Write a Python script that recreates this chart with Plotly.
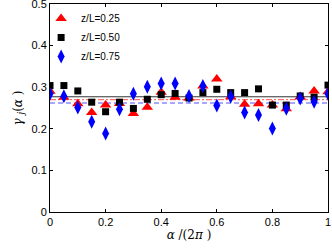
import plotly.graph_objects as go

x_vals = [0, 0.05, 0.1, 0.15, 0.2, 0.25, 0.3, 0.35, 0.4, 0.45, 0.5,
          0.55, 0.6, 0.65, 0.7, 0.75, 0.8, 0.85, 0.9, 0.95, 1.0]
red_025 = [0.290, 0.276, 0.260, 0.239, 0.257, 0.261, 0.237, 0.252, 0.288, 0.276, 0.274,
           0.303, 0.320, 0.277, 0.259, 0.260, 0.257, 0.248, 0.277, 0.291, 0.289]
black_050 = [0.304, 0.304, 0.291, 0.264, 0.241, 0.264, 0.249, 0.271, 0.282, 0.285, 0.274,
             0.287, 0.295, 0.287, 0.287, 0.296, 0.257, 0.257, 0.279, 0.276, 0.305]
blue_075 = [0.284, 0.278, 0.251, 0.217, 0.189, 0.247, 0.284, 0.301, 0.309, 0.309, 0.279,
            0.303, 0.256, 0.277, 0.239, 0.233, 0.201, 0.248, 0.273, 0.265, 0.284]
mean_black = 0.277
mean_red = 0.270
mean_blue = 0.262
line_x = [0, 1]
x_ticks = [0, 0.2, 0.4, 0.6, 0.8, 1]
x_tick_text = ["0", "0.2", "0.4", "0.6", "0.8", "1"]
y_ticks = [0, 0.1, 0.2, 0.3, 0.4, 0.5]
y_tick_text = ["0", "0.1", "0.2", "0.3", "0.4", "0.5"]

fig = go.Figure()
fig.add_trace(go.Scatter(x=line_x, y=[mean_black]*2, mode="lines",
                         line=dict(color="#333333", width=1), showlegend=False))
fig.add_trace(go.Scatter(x=line_x, y=[mean_red]*2, mode="lines",
                         line=dict(color="#ff5050", width=1, dash="6px,2px,2px,2px"), showlegend=False))
fig.add_trace(go.Scatter(x=line_x, y=[mean_blue]*2, mode="lines",
                         line=dict(color="#5050ff", width=1, dash="5px,3px"), showlegend=False))
fig.add_trace(go.Scatter(x=x_vals, y=red_025, mode="markers", name="z/L=0.25",
                         marker=dict(symbol="triangle-up", size=10, color="#ff0000")))
fig.add_trace(go.Scatter(x=x_vals, y=black_050, mode="markers", name="z/L=0.50",
                         marker=dict(symbol="square", size=7, color="#000000")))
fig.add_trace(go.Scatter(x=x_vals, y=blue_075, mode="markers", name="z/L=0.75",
                         marker=dict(symbol="diamond-tall", size=10, color="#0000ff")))

axis_common = dict(showline=True, linecolor="black", linewidth=1, mirror="ticks",
                   ticks="inside", ticklen=3, tickcolor="black", showgrid=False,
                   zeroline=False, automargin=False, ticklabeloverflow="allow",
                   tickfont=dict(family="Liberation Sans, Arial", size=11, color="black"))
fig.update_xaxes(range=[0, 1], tickvals=x_ticks, ticktext=x_tick_text,
                 title=dict(text="<i>α</i> /(2<i>π</i> )", font=dict(family="DejaVu Serif, serif", size=12, color="black"),
                            standoff=2),
                 **axis_common)
fig.update_yaxes(range=[0, 0.5], tickvals=y_ticks, ticktext=y_tick_text,
                 title=dict(text="<i>γ</i> <sub><i>j</i></sub>(<i>α</i> )", font=dict(family="DejaVu Serif, serif", size=12, color="black"),
                            standoff=6),
                 **axis_common)
fig.update_layout(width=332, height=250, margin=dict(l=50, r=4, t=4, b=38),
                  paper_bgcolor="white", plot_bgcolor="white",
                  legend=dict(x=-0.032, y=1.0, xanchor="left", yanchor="top",
                              bgcolor="rgba(255,255,255,0)", font=dict(family="Liberation Sans, Arial", size=10, color="black"),
                              itemwidth=30))
fig.write_html("out.html", config={"displayModeBar": False},
               post_script="document.body.style.margin='0';")
